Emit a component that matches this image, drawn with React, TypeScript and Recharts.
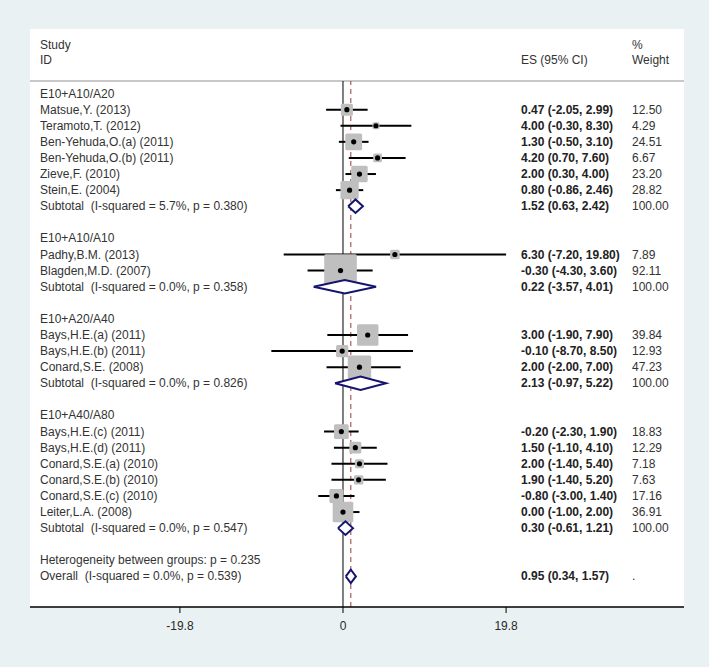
import { ComposedChart, Scatter, XAxis, YAxis, ErrorBar, ReferenceLine } from 'recharts'

const groupNames = ['E10+A10/A20', 'E10+A10/A10', 'E10+A20/A40', 'E10+A40/A80']

const studyLabels = [
  'Matsue,Y. (2013)', 'Teramoto,T. (2012)', 'Ben-Yehuda,O.(a) (2011)', 'Ben-Yehuda,O.(b) (2011)', 'Zieve,F. (2010)', 'Stein,E. (2004)',
  'Padhy,B.M. (2013)', 'Blagden,M.D. (2007)',
  'Bays,H.E.(a) (2011)', 'Bays,H.E.(b) (2011)', 'Conard,S.E. (2008)',
  'Bays,H.E.(c) (2011)', 'Bays,H.E.(d) (2011)', 'Conard,S.E.(a) (2010)', 'Conard,S.E.(b) (2010)', 'Conard,S.E.(c) (2010)', 'Leiter,L.A. (2008)',
]
const studyGroup = [0, 0, 0, 0, 0, 0, 1, 1, 2, 2, 2, 3, 3, 3, 3, 3, 3]
const studyES = [0.47, 4.0, 1.3, 4.2, 2.0, 0.8, 6.3, -0.3, 3.0, -0.1, 2.0, -0.2, 1.5, 2.0, 1.9, -0.8, 0.0]
const studyLo = [-2.05, -0.3, -0.5, 0.7, 0.3, -0.86, -7.2, -4.3, -1.9, -8.7, -2.0, -2.3, -1.1, -1.4, -1.4, -3.0, -1.0]
const studyHi = [2.99, 8.3, 3.1, 7.6, 4.0, 2.46, 19.8, 3.6, 7.9, 8.5, 7.0, 1.9, 4.1, 5.4, 5.2, 1.4, 2.0]
const studyWeight = [12.5, 4.29, 24.51, 6.67, 23.2, 28.82, 7.89, 92.11, 39.84, 12.93, 47.23, 18.83, 12.29, 7.18, 7.63, 17.16, 36.91]

const subtotalLabels = [
  'Subtotal  (I-squared = 5.7%, p = 0.380)',
  'Subtotal  (I-squared = 0.0%, p = 0.358)',
  'Subtotal  (I-squared = 0.0%, p = 0.826)',
  'Subtotal  (I-squared = 0.0%, p = 0.547)',
]
const subtotalES = [1.52, 0.22, 2.13, 0.3]
const subtotalLo = [0.63, -3.57, -0.97, -0.61]
const subtotalHi = [2.42, 4.01, 5.22, 1.21]

const heterogeneityLabel = 'Heterogeneity between groups: p = 0.235'
const overallLabel = 'Overall  (I-squared = 0.0%, p = 0.539)'
const overallES = 0.95
const overallLo = 0.34
const overallHi = 1.57

const xTicks = [-19.8, 0, 19.8]

const fmt = (v: number) => v.toFixed(2)
const ciText = (es: number, lo: number, hi: number) => `${fmt(es)} (${fmt(lo)}, ${fmt(hi)})`

type Row = { label: string; es?: string; weight?: string }
const rows: Row[] = []
const studyPoints: any[] = []
const diamonds: any[][] = []

const addDiamond = (row: number, es: number, lo: number, hi: number) => {
  diamonds.push([
    { es: lo, row },
    { es, row: row - 0.42 },
    { es: hi, row },
    { es, row: row + 0.42 },
    { es: lo, row },
  ])
}

groupNames.forEach((g, gi) => {
  rows.push({ label: g })
  studyLabels.forEach((s, i) => {
    if (studyGroup[i] !== gi) return
    studyPoints.push({
      row: rows.length,
      es: studyES[i],
      err: [studyES[i] - studyLo[i], studyHi[i] - studyES[i]],
      w: studyWeight[i],
    })
    rows.push({ label: s, es: ciText(studyES[i], studyLo[i], studyHi[i]), weight: fmt(studyWeight[i]) })
  })
  addDiamond(rows.length, subtotalES[gi], subtotalLo[gi], subtotalHi[gi])
  rows.push({ label: subtotalLabels[gi], es: ciText(subtotalES[gi], subtotalLo[gi], subtotalHi[gi]), weight: '100.00' })
  rows.push({ label: '' })
})
rows.push({ label: heterogeneityLabel })
addDiamond(rows.length, overallES, overallLo, overallHi)
rows.push({ label: overallLabel, es: ciText(overallES, overallLo, overallHi), weight: '.' })

const FONT = '"Liberation Sans", Arial, sans-serif'
const TEXT = '#333333'
const NAVY = '#14146e'
const ES_X = 521
const W_X = 632

function RowTick(props: any) {
  const { y, payload } = props
  const r = rows[payload.value]
  if (!r) return <g />
  return (
    <g fontFamily={FONT} fontSize={12} fill={TEXT}>
      <text x={40} y={y} dy={4} xmlSpace="preserve" style={{ whiteSpace: 'pre' }}>{r.label}</text>
      {r.es && <text x={ES_X} y={y} dy={4} fontWeight="bold" fill="#222">{r.es}</text>}
      {r.weight && <text x={W_X} y={y} dy={4}>{r.weight}</text>}
    </g>
  )
}

const Box = (props: any) => {
  const { cx, cy, payload } = props
  const s = 3.4 * Math.sqrt(payload.w)
  return <rect x={cx - s / 2} y={cy - s / 2} width={s} height={s} rx={1.5} fill="#bfbfbf" />
}
const Dot = (props: any) => <circle cx={props.cx} cy={props.cy} r={2.6} fill="#000" />
const NoShape = () => <g />

export default function App() {
  return (
    <div style={{ position: 'absolute', left: 0, top: 0, width: 709, height: 667, background: '#e9f1f3' }}>
      <div style={{ position: 'absolute', left: 30, top: 29, width: 654, height: 578, background: '#ffffff' }} />
      <svg width={709} height={81} style={{ position: 'absolute', left: 0, top: 0 }} fontFamily={FONT} fontSize={12} fill={TEXT}>
        <text x={40} y={49}>Study</text>
        <text x={40} y={64}>ID</text>
        <text x={ES_X} y={64}>ES (95% CI)</text>
        <text x={W_X} y={49}>%</text>
        <text x={W_X} y={64}>Weight</text>
      </svg>
      <div style={{ position: 'absolute', left: 0, top: 0 }}>
        <ComposedChart width={709} height={667} margin={{ top: 81, right: 25, bottom: 30, left: 29 }}>
          <XAxis
            type="number"
            dataKey="es"
            domain={[-38, 41.4]}
            ticks={xTicks}
            allowDataOverflow
            height={30}
            axisLine={{ stroke: '#000', strokeWidth: 1.5 }}
            tickLine={{ stroke: '#000' }}
            tickSize={6}
            tickMargin={8}
            tick={{ fill: '#2a2a2a', fontSize: 12, fontFamily: FONT }}
          />
          <YAxis
            type="number"
            dataKey="row"
            domain={[-0.78, 31.9]}
            reversed
            ticks={rows.map((_, i) => i)}
            interval={0}
            width={1}
            axisLine={false}
            tickLine={false}
            tick={(p: any) => <RowTick {...p} />}
          />
          <ReferenceLine y={-0.78} stroke="#c8c8c8" strokeWidth={2} />
          <ReferenceLine x={0} stroke="#000" strokeWidth={1} />
          <ReferenceLine x={overallES} stroke="#9b3a3a" strokeWidth={1} strokeDasharray="5 4" />
          <Scatter data={studyPoints} shape={<Box />} isAnimationActive={false} />
          <Scatter data={studyPoints} shape={<Dot />} isAnimationActive={false}>
            <ErrorBar dataKey="err" direction="x" width={0} stroke="#000" strokeWidth={2} />
          </Scatter>
          {diamonds.map((d, i) => (
            <Scatter
              key={i}
              data={d}
              shape={<NoShape />}
              line={{ stroke: NAVY, strokeWidth: 2, fill: '#ffffff' }}
              lineType="joint"
              isAnimationActive={false}
            />
          ))}
        </ComposedChart>
      </div>
    </div>
  )
}
